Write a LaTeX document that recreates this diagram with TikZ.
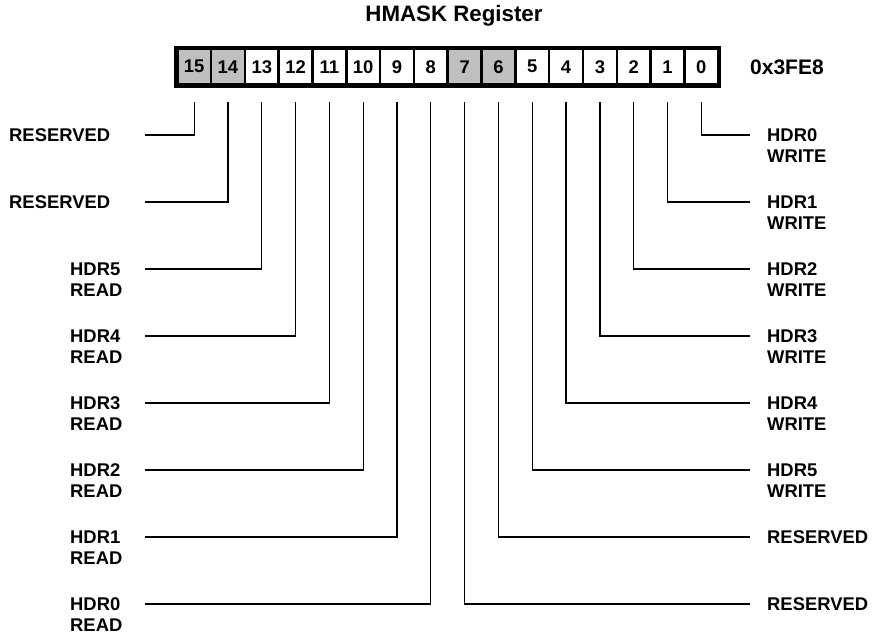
\documentclass[tikz,border=0pt]{standalone}
\usepackage{fontspec}
\setmainfont{Liberation Sans}
\begin{document}
\begin{tikzpicture}[x=1pt,y=-1pt,
  font=\fontsize{18.4}{21}\selectfont\bfseries,
  cell/.style={draw, line width=2.5pt, minimum width=33.81pt, minimum height=36pt, inner sep=0pt, anchor=north west},
  rsv/.style={cell, fill=gray!50},
  lbl/.style={inner sep=0pt, align=left, anchor=base west},
  wire/.style={line width=1.3pt}]
\useasboundingbox (0,0) rectangle (882,636);
\node[inner sep=0pt, font=\fontsize{22.3}{26}\selectfont\bfseries] (title) at (454,16) {HMASK Register};
\foreach \b/\s in {15/rsv,14/rsv,13/cell,12/cell,11/cell,10/cell,9/cell,8/cell,7/rsv,6/rsv,5/cell,4/cell,3/cell,2/cell,1/cell,0/cell}
  \node[\s] (b\b) at ({176+33.81*(15-\b)},47.5) {\b};
\draw[line width=3.5pt] (b15.north west) rectangle (b0.south east);
\node[inner sep=0pt, anchor=west, font=\fontsize{21}{24}\selectfont\bfseries] (addr) at (750,67) {0x3FE8};
% left side
\foreach \b/\t in {15/RESERVED,14/RESERVED}{
  \pgfmathsetmacro\yy{135+67*(15-\b)}
  \coordinate (e\b) at (145,\yy);
  \node[lbl] (l\b) at (9,\yy+6.6) {\t};
  \draw[wire] ([yshift=-16.5pt]b\b.south) |- (e\b);
}
\foreach \b/\t in {13/HDR5,12/HDR4,11/HDR3,10/HDR2,9/HDR1,8/HDR0}{
  \pgfmathsetmacro\yy{135+67*(15-\b)}
  \coordinate (e\b) at (145,\yy);
  \node[lbl] (l\b) at (70,\yy+27.6) {\t\\READ};
  \draw[wire] ([yshift=-16.5pt]b\b.south) |- (e\b);
}
% right side
\foreach \b/\t in {0/HDR0,1/HDR1,2/HDR2,3/HDR3,4/HDR4,5/HDR5}{
  \pgfmathsetmacro\yy{135+67*\b}
  \coordinate (e\b) at (750,\yy);
  \node[lbl] (l\b) at (767,\yy+27.6) {\t\\WRITE};
  \draw[wire] ([yshift=-16.5pt]b\b.south) |- (e\b);
}
\foreach \b in {6,7}{
  \pgfmathsetmacro\yy{135+67*\b}
  \coordinate (e\b) at (750,\yy);
  \node[lbl] (l\b) at (767,\yy+6.6) {RESERVED};
  \draw[wire] ([yshift=-16.5pt]b\b.south) |- (e\b);
}
\end{tikzpicture}
\end{document}
